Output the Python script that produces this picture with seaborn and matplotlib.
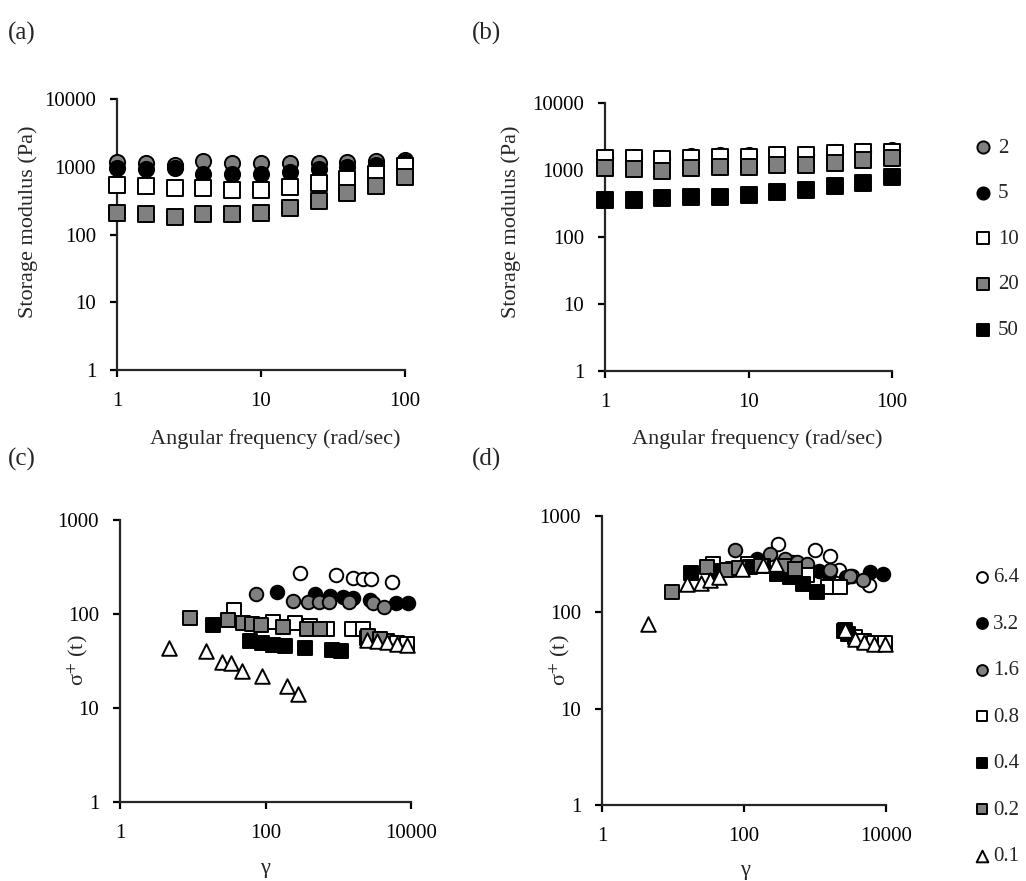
import numpy as np
import seaborn as sns
import matplotlib.pyplot as plt
from matplotlib.ticker import FixedLocator, FuncFormatter, NullLocator

# Panels (a), (b): storage modulus vs angular frequency
freq = [1, 1.58, 2.51, 3.98, 6.31, 10, 15.8, 25.1, 39.8, 63.1, 100]
top_labels = ['2', '5', '10', '20', '50']

g_a = {
    '2': [1190, 1120, 1060, 1200, 1120, 1120, 1120, 1120, 1190, 1200, 1260],
    '5': [950, 920, 950, 780, 770, 770, 850, 920, 980, 1060, 1190],
    '10': [540, 520, 480, 480, 455, 455, 510, 570, 650, 780, 1030],
    '20': [210, 200, 183, 200, 200, 210, 250, 316, 405, 520, 710],
    '50': [np.nan] * 11,
}
g_b = {
    '2': [1500, 1480, 1470, 1530, 1580, 1600, 1680, 1700, 1780, 1880, 1920],
    '5': [1560, 1540, 1520, 1600, 1650, 1650, 1750, 1760, 1850, 1950, 2000],
    '10': [1490, 1490, 1460, 1530, 1580, 1580, 1670, 1670, 1770, 1880, 1880],
    '20': [1060, 1020, 980, 1060, 1100, 1100, 1190, 1190, 1260, 1410, 1490],
    '50': [357, 357, 378, 400, 391, 424, 464, 503, 577, 632, 795],
}

# Panels (c), (d): stress growth vs strain
bottom_labels = ['6.4', '3.2', '1.6', '0.8', '0.4', '0.2', '0.1']

c_x = {
    '6.4': [298, 931, 1580, 2210, 2820, 5430],
    '3.2': [145, 480, 770, 1150, 1580, 2730, 6220, 9010],
    '1.6': [74, 241, 380, 550, 750, 1420, 2970, 4250],
    '0.8': [37, 127, 254, 409, 693, 1530, 2170, 2460, 3380, 4630, 6350, 8730],
    '0.4': [18.8, 61, 89, 128, 185, 349, 813, 1082],
    '0.2': [9.2, 31, 49, 65, 86, 176, 368, 561, 2590, 3750],
    '0.1': [4.7, 15.2, 25, 34, 47, 89, 196, 277, 2460, 3380, 4630, 6350, 8730],
}
c_y = {
    '6.4': [275, 260, 240, 234, 234, 217],
    '3.2': [173, 163, 155, 153, 147, 141, 132, 130],
    '1.6': [163, 138, 135, 133, 133, 133, 130, 118],
    '0.8': [110, 83, 80, 75, 70, 69, 69, 55, 53, 51, 49, 48],
    '0.4': [76, 51, 49, 47, 46, 44, 41, 40],
    '0.2': [90, 86, 81, 78, 76, 73, 69, 69, 58, 54],
    '0.1': [43, 40, 31, 30, 25, 22, 17, 14, 53, 51, 50, 48, 47],
}

d_x = {
    '6.4': [300, 1000, 1630, 2200, 3300, 5800],
    '3.2': [151, 480, 770, 1150, 1580, 2730, 5950, 9160],
    '1.6': [75, 232, 378, 552, 764, 1630, 3110, 4800],
    '0.8': [37, 115, 764, 1540, 2250, 2650, 3660, 4900, 6770, 9680],
    '0.4': [18, 40, 70, 120, 185, 289, 444, 685, 1055, 2600, 2900],
    '0.2': [9.6, 30, 57, 86, 176, 368, 523],
    '0.1': [4.5, 15.6, 24.5, 33, 45, 93, 187, 282, 2650, 3660, 4900, 6770, 9680],
}
d_y = {
    '6.4': [507, 439, 380, 277, 240, 190],
    '3.2': [360, 330, 300, 270, 250, 230, 262, 252],
    '1.6': [439, 405, 360, 332, 320, 277, 236, 215],
    '0.8': [320, 320, 242, 183, 183, 65, 55, 50, 48, 48],
    '0.4': [255, 270, 280, 295, 300, 252, 232, 198, 162, 64, 60],
    '0.2': [162, 295, 277, 290, 300, 300, 284],
    '0.1': [76, 195, 201, 215, 232, 284, 312, 320, 65, 53, 49, 47, 47],
}

GREY = '#808080'
top_style = {
    '2': ('o', GREY), '5': ('o', 'black'), '10': ('s', 'white'),
    '20': ('s', GREY), '50': ('s', 'black'),
}
bottom_style = {
    '6.4': ('o', 'white'), '3.2': ('o', 'black'), '1.6': ('o', GREY),
    '0.8': ('s', 'white'), '0.4': ('s', 'black'), '0.2': ('s', GREY),
    '0.1': ('^', 'white'),
}

sns.set_style('ticks')
plt.rcParams['font.family'] = ['Liberation Serif', 'DejaVu Serif']
plt.rcParams['mathtext.fontset'] = 'stix'
plt.rcParams['axes.linewidth'] = 1.6
plt.rcParams['xtick.major.width'] = 1.6
plt.rcParams['ytick.major.width'] = 1.6

fig = plt.figure(figsize=(10.26, 8.81), dpi=100)
W, H = 1026, 881


def px_axes(l, t, r, b):
    return fig.add_axes([l / W, 1 - b / H, (r - l) / W, (b - t) / H])


ax_a = px_axes(117, 99, 405, 370)
ax_b = px_axes(605, 103, 892, 371)
ax_c = px_axes(120, 520, 411, 802)
ax_d = px_axes(602, 516, 886, 805)

fmt = FuncFormatter(lambda v, _: f'{v:g}')


def style_axis(ax, xt, yt):
    ax.set_xscale('log')
    ax.set_yscale('log')
    ax.set_xlim(xt[0], xt[-1])
    ax.set_ylim(yt[0], yt[-1])
    ax.xaxis.set_major_locator(FixedLocator(xt))
    ax.yaxis.set_major_locator(FixedLocator(yt))
    ax.xaxis.set_minor_locator(NullLocator())
    ax.yaxis.set_minor_locator(NullLocator())
    ax.xaxis.set_major_formatter(fmt)
    ax.yaxis.set_major_formatter(fmt)
    ax.tick_params(axis='both', direction='out', length=5, labelsize=15,
                   colors='black')
    ax.tick_params(axis='x', pad=11)
    ax.tick_params(axis='y', pad=10)
    sns.despine(ax=ax)


for ax, data in [(ax_a, g_a), (ax_b, g_b)]:
    for lab in top_labels:
        m, c = top_style[lab]
        sns.scatterplot(x=freq, y=data[lab], marker=m, color=c, s=120,
                        edgecolor='black', linewidth=1.4, label=lab,
                        legend=False, clip_on=False, zorder=3, ax=ax)
    style_axis(ax, [1, 10, 100], [1, 10, 100, 1000, 10000])
    ax.set_xlabel('Angular frequency (rad/sec)', fontsize=16, va='center')
    ax.set_ylabel('Storage modulus (Pa)', fontsize=16, va='center')

for ax, xs, ys in [(ax_c, c_x, c_y), (ax_d, d_x, d_y)]:
    for lab in bottom_labels:
        m, c = bottom_style[lab]
        sns.scatterplot(x=xs[lab], y=ys[lab], marker=m, color=c,
                        s=110 if m == '^' else 95,
                        edgecolor='black', linewidth=1.4, label=lab,
                        legend=False, clip_on=False, zorder=3, ax=ax)
    style_axis(ax, [1, 100, 10000], [1, 10, 100, 1000])
    ax.set_xlabel('γ', fontsize=16, va='center')
    ax.set_ylabel('σ$^{+}$ (t)', fontsize=16, va='center')

# label positions (from pixel centres in the reference)
ax_a.xaxis.set_label_coords((275 - 117) / 288, -(439 - 370) / 271)
ax_a.yaxis.set_label_coords(-(117 - 28) / 288, (370 - 222) / 271)
ax_b.xaxis.set_label_coords((757 - 605) / 287, -(439 - 371) / 268)
ax_b.yaxis.set_label_coords(-(605 - 511) / 287, (371 - 222) / 268)
ax_c.xaxis.set_label_coords((265 - 120) / 291, -(869 - 802) / 282)
ax_c.yaxis.set_label_coords(-(120 - 78) / 291, (802 - 660) / 282)
ax_d.xaxis.set_label_coords((745 - 602) / 284, -(870 - 805) / 289)
ax_d.yaxis.set_label_coords(-(602 - 560) / 284, (805 - 660) / 289)

# panel letters
for letter, x, y in [('(a)', 8, 33), ('(b)', 472, 33), ('(c)', 8, 459), ('(d)', 472, 459)]:
    fig.text(x / W, 1 - y / H, letter, fontsize=18, va='center', ha='left')

# legends
h, l = ax_b.get_legend_handles_labels()
fig.legend(h, l, loc='center left', bbox_to_anchor=(975 / W, 1 - 239 / H),
           frameon=False, fontsize=15, markerscale=0.8, handlelength=0.8,
           handletextpad=0.3, labelspacing=1.25, borderpad=0, borderaxespad=0)
h, l = ax_d.get_legend_handles_labels()
fig.legend(h, l, loc='center left', bbox_to_anchor=(974 / W, 1 - 717 / H),
           frameon=False, fontsize=15, markerscale=0.8, handlelength=0.8,
           handletextpad=0.1, labelspacing=1.29, borderpad=0, borderaxespad=0)

fig.savefig('out.png', dpi=100)
